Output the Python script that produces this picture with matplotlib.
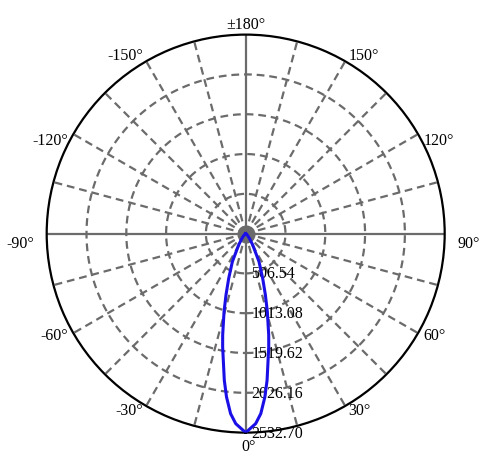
import numpy as np
import matplotlib
matplotlib.use("Agg")
import matplotlib.pyplot as plt
from matplotlib.transforms import ScaledTranslation

plt.rcParams["font.family"] = ["Liberation Serif", "DejaVu Serif"]

# ---- data -------------------------------------------------------------------
# half-profile of the beam, mirrored for negative angles
angles_deg = [0, 3, 4.8, 6.7, 8.3, 11.5, 12.8, 15.5, 17.8, 20.8, 25.4, 31.8,
              38, 45, 55, 70, 90, 180]
intensity = [2532.70, 2422, 2299, 2093, 1886, 1471, 1322, 1031, 820, 609, 395,
             169, 80, 35, 12, 3, 0, 0]
ring_values = [506.54, 1013.08, 1519.62, 2026.16, 2532.70]
ring_labels = ["506.54", "1013.08", "1519.62", "2026.16", "2532.70"]
angle_ticks = [0, 30, 60, 90, 120, 150, 180, -150, -120, -90, -60, -30]
angle_labels = ["0°", "30°", "60°", "90°", "120°", "150°", "±180°",
                "-150°", "-120°", "-90°", "-60°", "-30°"]

GRID = "#6b6b6b"
RMAX = ring_values[-1]
FS = 11.5

fig = plt.figure(figsize=(4.94, 4.71), dpi=100)
ax = fig.add_axes([0.0945, 0.0815, 0.8057, 0.845], projection="polar")
ax.set_theta_zero_location("S")
ax.set_theta_direction(1)
ax.set_ylim(0, RMAX)
ax.set_xticks([]); ax.set_yticks([])
ax.grid(False)
ax.spines["polar"].set_color("black")
ax.spines["polar"].set_linewidth(1.6)

# dashed rings
th = np.linspace(0, 2 * np.pi, 400)
for v in ring_values[:-1]:
    ax.plot(th, np.full_like(th, v), color=GRID, lw=1.6,
            ls=(0, (3.5, 2.2)), zorder=1)

# spokes every 15 deg; the two main axes solid
for a in range(0, 360, 15):
    t = np.radians(a)
    solid = a % 90 == 0
    ax.plot([t, t], [0, RMAX], color=GRID, lw=1.6,
            ls="-" if solid else (0, (3.5, 2.2)), zorder=1)
ax.plot([0], [0], "o", color=GRID, ms=12, zorder=1.5)

# radial value labels along 0 deg
for v, s in zip(ring_values, ring_labels):
    tr = ax.transData + ScaledTranslation(0.056, -0.01, fig.dpi_scale_trans)
    ax.text(0, v, s, transform=tr, ha="left", va="center", fontsize=FS,
            zorder=2)

# angle labels outside the rim
for a, s in zip(angle_ticks, angle_labels):
    t = np.radians(a)
    sx, sy = np.sin(t), -np.cos(t)
    pad = 0.06
    dx, dy = sx * pad, sy * pad
    if abs(sx) < 0.1:
        ha = "center"
        if sy < 0:
            va, dx = "top", dx + 0.03
        else:
            va, dy = "bottom", dy - 0.04
    else:
        ha = "left" if sx > 0 else "right"
        va = "center"
        if 90 <= abs(a) <= 120:
            dy -= 0.10
        if abs(a) == 90:
            dx += sx * 0.07
    tr = ax.transData + ScaledTranslation(dx, dy, fig.dpi_scale_trans)
    ax.text(t, RMAX, s, transform=tr, ha=ha, va=va, fontsize=FS,
            clip_on=False)

# intensity curve
ang = np.array(angles_deg, float)
val = np.array(intensity, float)
full_ang = np.concatenate([-ang[::-1], ang[1:]])
full_val = np.concatenate([val[::-1], val[1:]])
ax.plot(np.radians(full_ang), full_val, color="#1a0fe6", lw=2.2, zorder=3)

fig.savefig("out.png", dpi=100)
